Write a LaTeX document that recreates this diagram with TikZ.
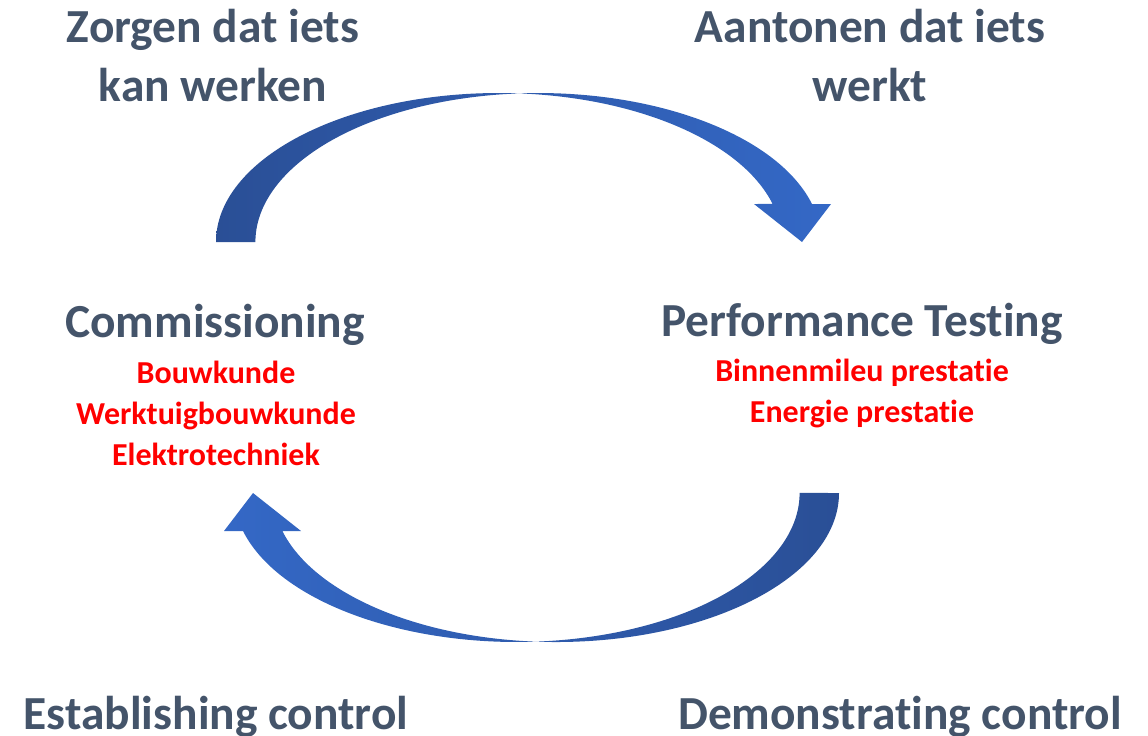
\documentclass[tikz,border=0pt]{standalone}
\usepackage{fontspec}
\setmainfont[Ligatures=NoCommon]{Carlito}
\usepackage{tikz}

\definecolor{textgray}{HTML}{44546A}
\definecolor{arrowdark}{HTML}{2A4F96}
\definecolor{arrowmid}{HTML}{4A72C0}
\definecolor{arrowlight}{HTML}{3468C6}

\tikzset{
    heading/.style={font=\bfseries\fontsize{27}{33.5}\selectfont,color=textgray,
        align=center,inner sep=0pt,anchor=base},
    sublist/.style={font=\bfseries\fontsize{18.2}{23.2}\selectfont,color=red,
        align=center,inner sep=0pt,anchor=base}
}

\begin{document}
\begin{tikzpicture}[x=0.02cm,y=0.02cm]
        \useasboundingbox (0,0) rectangle (1148,-735);

        % upper arrow
        \shade[left color=arrowdark,middle color=arrowmid,right color=arrowlight]
        (216,-242) arc[start angle=180,end angle=14.8,x radius=283,y radius=149]
        -- (754,-204) -- (802,-242) -- (831,-204) -- (812,-204)
        arc[start angle=14.8,end angle=180,x radius=283,y radius=149] -- cycle;

        % lower arrow, same shape turned round
        \begin{scope}[rotate around={180:(527.5,-367.5)}]
            \shade[left color=arrowlight,middle color=arrowmid,right color=arrowdark]
            (216,-242) arc[start angle=180,end angle=14.8,x radius=283,y radius=149]
            -- (754,-204) -- (802,-242) -- (831,-204) -- (812,-204)
            arc[start angle=14.8,end angle=180,x radius=283,y radius=149] -- cycle;
        \end{scope}

        \node[heading] (zorgen) at (213,-101) {Zorgen dat iets\\kan werken};
        \node[heading] (aantonen) at (870,-101) {Aantonen dat iets\\werkt};

        \node[heading] (commissioning) at (215,-337) {Commissioning};
        \node[sublist] (disciplines) at (216,-465) {Bouwkunde\\Werktuigbouwkunde\\Elektrotechniek};

        \node[heading] (performance) at (862,-336) {Performance Testing};
        \node[sublist] (prestaties) at (862,-422) {Binnenmileu prestatie\\Energie prestatie};

        \node[heading] (establishing) at (216,-729) {Establishing control};
        \node[heading] (demonstrating) at (900,-729) {Demonstrating control};
\end{tikzpicture}
\end{document}
